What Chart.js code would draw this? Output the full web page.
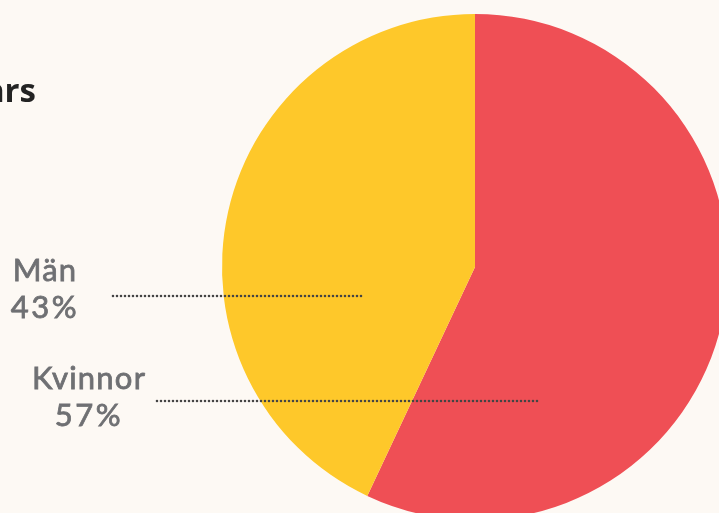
<!DOCTYPE html>
<html>
<head>
<meta charset="UTF-8">
<title>Kön</title>
<style type="text/css">
html, body {
	margin: 0;
	padding: 0;
	width: 719px;
	height: 513px;
	overflow: hidden;
	background: #fdf9f4;
}
#pieChart {
	position: absolute;
	left: 0;
	top: 0;
}
</style>
</head>
<body>
	<canvas id="pieChart" width="740" height="530"></canvas>

<script src="https://cdn.jsdelivr.net/npm/chart.js@4"></script>
<script>
	// 데이터
	const categories = ['Kvinnor', 'Män'];
	const shares = [57, 43];
	const sliceColors = ['#ef4f55', '#fec82a'];
	const titleTail = 'års';

	// 라벨 위치 (텍스트 중심 x, 첫 줄 baseline y, 점선 시작/끝)
	const labelSpots = [
		{ x: 89, y: 389, lineY: 401, x0: 157, x1: 538 },
		{ x: 45, y: 281, lineY: 296, x0: 113, x1: 363 }
	];

	const labelPlugin = {
		id: 'sideLabels',
		afterDraw(chart) {
			const ctx = chart.ctx;
			ctx.save();
			// 잘린 제목
			ctx.font = 'bold 33px "Open Sans"';
			ctx.fillStyle = '#232323';
			ctx.textAlign = 'right';
			ctx.textBaseline = 'alphabetic';
			ctx.fillText(titleTail, 36, 102);

			categories.forEach(function(name, i) {
				const s = labelSpots[i];
				// 점선
				ctx.beginPath();
				ctx.setLineDash([0, 4]);
				ctx.lineCap = 'round';
				ctx.lineWidth = 2.6;
				ctx.strokeStyle = '#444444';
				ctx.moveTo(s.x0, s.lineY);
				ctx.lineTo(s.x1, s.lineY);
				ctx.stroke();
				ctx.setLineDash([]);

				ctx.font = '31px Lato';
				ctx.fillStyle = '#6f7073';
				ctx.strokeStyle = '#6f7073';
				ctx.lineWidth = 0.8;
				ctx.textAlign = 'center';
				ctx.letterSpacing = '1.2px';
				ctx.fillText(name, s.x, s.y);
				ctx.strokeText(name, s.x, s.y);
				ctx.letterSpacing = '2.5px';
				ctx.fillText(shares[i] + '%', s.x, s.y + 37);
				ctx.strokeText(shares[i] + '%', s.x, s.y + 37);
			});
			ctx.restore();
		}
	};

	new Chart(document.getElementById('pieChart'), {
		type: 'pie',
		data: {
			labels: categories,
			datasets: [{
				data: shares,
				backgroundColor: sliceColors,
				borderWidth: 0
			}]
		},
		options: {
			responsive: false,
			animation: false,
			layout: {
				padding: { left: 222, right: 12, top: 14, bottom: 10 }
			},
			plugins: {
				legend: { display: false },
				tooltip: { enabled: false }
			}
		},
		plugins: [labelPlugin]
	});
</script>
</body>
</html>
